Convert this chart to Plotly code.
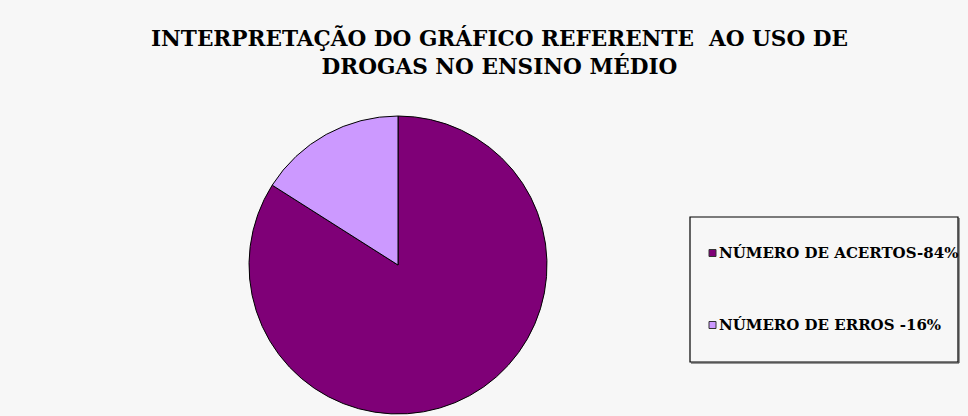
import plotly.graph_objects as go

# Data
labels = ["NÚMERO DE ACERTOS-84%", "NÚMERO DE ERROS -16%"]
values = [84, 16]
colors = ["#7f0077", "#cc99ff"]
title_lines = ["INTERPRETAÇÃO DO GRÁFICO REFERENTE  AO USO DE", "DROGAS NO ENSINO MÉDIO"]

W, H = 968, 416
BG = "#f7f7f7"
FONT = "DejaVu Serif"

fig = go.Figure()

# pie geometry (pixels)
cx, cy, r = 398, 265, 149
fig.add_trace(go.Pie(
    labels=labels, values=values, sort=False, direction="clockwise", rotation=0,
    marker=dict(colors=colors, line=dict(color="#000000", width=1)),
    textinfo="none", showlegend=False, hoverinfo="label+percent",
    domain=dict(x=[(cx - r) / W, (cx + r) / W], y=[(H - cy - r) / H, (H - cy + r) / H]),
))

shapes = []
annotations = []

# title
annotations.append(dict(
    text="<b>" + "<br>".join(title_lines) + "</b>",
    x=499 / W, y=1 - 23 / H, xref="paper", yref="paper", xanchor="center", yanchor="top",
    showarrow=False, font=dict(family=FONT, size=21.6, color="#000000"), align="center"))

# legend box
lx0, ly0, lx1, ly1 = 690, 217, 958, 362
shapes.append(dict(type="rect", xref="paper", yref="paper",
                   x0=lx0 / W, x1=lx1 / W, y0=1 - ly1 / H, y1=1 - ly0 / H,
                   line=dict(color="#000000", width=1.2), fillcolor=BG, layer="below"))
# slight shadow on right & bottom
shapes.append(dict(type="line", xref="paper", yref="paper",
                   x0=(lx0 + 1) / W, x1=(lx1 + 1) / W, y0=1 - (ly1 + 1) / H, y1=1 - (ly1 + 1) / H,
                   line=dict(color="#333333", width=1), layer="above"))
shapes.append(dict(type="line", xref="paper", yref="paper",
                   x0=(lx1 + 1) / W, x1=(lx1 + 1) / W, y0=1 - (ly0 + 1) / H, y1=1 - (ly1 + 1) / H,
                   line=dict(color="#333333", width=1), layer="above"))

item_y0 = 253
item_gap = 72
for i, (lab, col) in enumerate(zip(labels, colors)):
    yy = item_y0 + i * item_gap
    shapes.append(dict(type="rect", xref="paper", yref="paper",
                       x0=709 / W, x1=716 / W, y0=1 - (yy + 3.5) / H, y1=1 - (yy - 3.5) / H,
                       line=dict(color="#333333", width=1), fillcolor=col, layer="above"))
    annotations.append(dict(
        text="<b>" + lab + "</b>", x=717 / W, y=1 - yy / H, xref="paper", yref="paper",
        xanchor="left", yanchor="middle", showarrow=False,
        font=dict(family=FONT, size=15, color="#000000")))

fig.update_layout(
    width=W, height=H, margin=dict(l=0, r=0, t=0, b=0),
    paper_bgcolor=BG, plot_bgcolor=BG,
    shapes=shapes, annotations=annotations,
)

fig.write_html("out.html")
